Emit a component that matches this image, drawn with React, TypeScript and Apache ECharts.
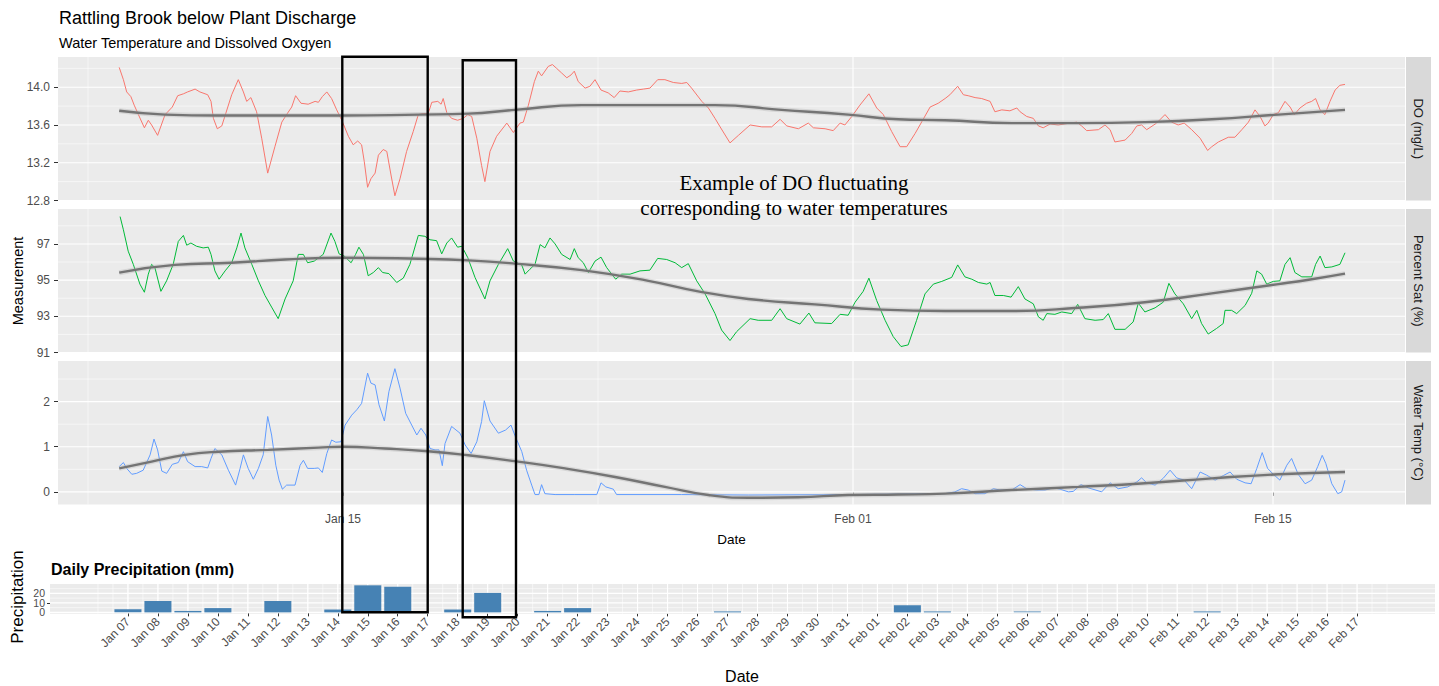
import { useEffect, useRef } from "react";
import * as echarts from "echarts";

// ---------- Data (x = days since Jan 01) ----------
const doPoints: [number, number][] = [
  [6.54,14.21],[6.68,14.08],[6.79,13.95],[6.93,13.90],[7.04,13.81],[7.18,13.71],[7.38,13.57],[7.51,13.65],[7.62,13.60],[7.82,13.49],
  [8.07,13.71],[8.31,13.79],[8.49,13.91],[8.68,13.93],[8.82,13.95],[9.07,13.98],[9.23,13.95],[9.49,13.92],[9.60,13.85],[9.68,13.67],
  [9.81,13.56],[9.96,13.59],[10.29,13.92],[10.51,14.08],[10.68,13.95],[10.79,13.85],[10.93,13.89],[11.12,13.74],[11.29,13.46],[11.49,13.09],
  [11.73,13.37],[11.96,13.63],[12.12,13.71],[12.29,13.79],[12.42,13.91],[12.60,13.83],[12.84,13.82],[13.07,13.85],[13.18,13.84],[13.31,13.90],
  [13.46,13.95],[13.62,13.88],[13.79,13.76],[13.96,13.65],[14.18,13.48],[14.34,13.39],[14.49,13.43],[14.62,13.39],[14.71,13.21],[14.82,12.94],
  [14.93,13.03],[15.07,13.09],[15.18,13.28],[15.34,13.34],[15.46,13.32],[15.60,13.07],[15.73,12.85],[15.90,13.03],[16.12,13.32],[16.34,13.53],
  [16.51,13.71],[16.68,13.72],[16.84,13.72],[16.96,13.84],[17.16,13.85],[17.27,13.82],[17.34,13.88],[17.46,13.73],[17.62,13.67],[17.82,13.65],
  [18.01,13.67],[18.16,13.71],[18.29,13.69],[18.46,13.46],[18.62,13.17],[18.73,13.00],[18.90,13.32],[19.12,13.48],[19.46,13.62],[19.68,13.52],
  [19.90,13.62],[20.01,13.63],[20.18,13.81],[20.38,14.06],[20.51,14.17],[20.62,14.12],[20.84,14.22],[20.98,14.24],[21.12,14.20],[21.29,14.15],
  [21.46,14.10],[21.60,14.13],[21.71,14.17],[21.84,14.06],[22.07,13.99],[22.23,14.01],[22.40,14.08],[22.60,13.97],[22.84,13.94],[23.04,13.89],
  [23.23,13.96],[23.51,13.95],[23.79,13.97],[24.01,13.98],[24.23,13.99],[24.49,14.08],[24.73,14.08],[25.01,14.05],[25.29,14.04],[25.46,14.05],
  [25.62,13.99],[25.96,13.85],[26.18,13.78],[26.40,13.67],[26.57,13.58],[26.90,13.41],[27.18,13.49],[27.57,13.60],[27.96,13.58],[28.29,13.58],
  [28.57,13.66],[28.79,13.59],[29.18,13.56],[29.51,13.62],[29.68,13.57],[30.07,13.56],[30.34,13.54],[30.57,13.62],[30.73,13.60],[30.96,13.69],
  [31.23,13.81],[31.53,13.93],[31.79,13.78],[32.01,13.71],[32.29,13.53],[32.57,13.37],[32.79,13.37],[33.07,13.51],[33.34,13.66],[33.57,13.79],
  [33.84,13.83],[34.07,13.88],[34.23,13.92],[34.49,14.01],[34.68,13.92],[34.84,13.91],[35.07,13.89],[35.29,13.88],[35.57,13.85],[35.73,13.74],
  [35.96,13.76],[36.23,13.75],[36.46,13.78],[36.57,13.74],[36.79,13.69],[37.01,13.67],[37.18,13.59],[37.34,13.57],[37.57,13.61],[37.84,13.60],
  [38.23,13.62],[38.46,13.63],[38.62,13.59],[38.79,13.54],[39.18,13.55],[39.40,13.60],[39.57,13.55],[39.73,13.42],[40.07,13.44],[40.29,13.51],
  [40.46,13.59],[40.62,13.60],[40.79,13.55],[41.12,13.62],[41.40,13.71],[41.62,13.63],[41.84,13.60],[42.04,13.62],[42.29,13.55],[42.57,13.46],
  [42.82,13.33],[42.96,13.37],[43.18,13.42],[43.51,13.47],[43.73,13.47],[43.96,13.55],[44.18,13.63],[44.40,13.76],[44.57,13.69],[44.73,13.59],
  [44.84,13.62],[45.01,13.71],[45.18,13.73],[45.40,13.85],[45.57,13.79],[45.71,13.71],[45.90,13.78],[46.12,13.83],[46.29,13.85],[46.42,13.88],
  [46.57,13.76],[46.73,13.71],[46.90,13.85],[47.07,13.97],[47.23,14.02],[47.40,14.03],
];
const doSmooth: [number, number][] = [
  [6.54,13.75],[8.07,13.71],[9.84,13.70],[12.07,13.70],[14.01,13.70],[16.51,13.71],[18.18,13.72],[19.73,13.76],[21.96,13.81],[24.18,13.81],
  [26.40,13.81],[28.62,13.76],[30.84,13.71],[32.51,13.66],[34.07,13.65],[36.29,13.62],[38.51,13.62],[40.73,13.63],[42.96,13.66],[45.18,13.71],[47.40,13.76],
];

const satPoints: [number, number][] = [
  [6.57,98.51],[6.68,97.78],[6.84,96.60],[7.01,95.87],[7.23,94.78],[7.38,94.33],[7.51,95.33],[7.62,95.87],[7.73,95.69],[7.93,94.38],
  [8.12,94.96],[8.34,95.87],[8.51,97.14],[8.68,97.47],[8.79,96.93],[8.93,97.05],[9.12,96.87],[9.34,96.78],[9.51,96.82],[9.60,96.42],
  [9.73,95.51],[9.87,95.05],[10.07,95.51],[10.29,95.96],[10.46,96.78],[10.60,97.60],[10.73,96.78],[10.96,95.87],[11.18,94.96],[11.40,94.15],
  [11.62,93.51],[11.84,92.87],[12.07,93.96],[12.34,94.96],[12.51,96.42],[12.68,96.42],[12.82,95.96],[13.04,96.05],[13.34,96.42],[13.60,97.60],
  [13.73,97.14],[13.87,96.45],[14.04,96.33],[14.27,95.96],[14.42,96.42],[14.53,96.82],[14.68,96.42],[14.84,95.24],[15.01,95.42],[15.18,95.69],
  [15.32,95.42],[15.53,95.36],[15.79,94.87],[16.01,95.11],[16.23,95.87],[16.51,97.47],[16.73,97.42],[16.90,97.23],[17.12,97.18],[17.29,96.45],
  [17.46,97.05],[17.62,97.33],[17.82,96.82],[17.96,96.87],[18.16,96.24],[18.40,95.15],[18.73,93.96],[18.90,94.96],[19.18,95.87],[19.49,96.74],
  [19.68,96.05],[19.96,95.83],[20.07,95.33],[20.23,95.60],[20.40,95.87],[20.57,96.96],[20.73,96.78],[20.90,97.33],[21.07,97.00],[21.29,96.42],
  [21.57,96.14],[21.71,96.74],[21.84,96.24],[22.01,95.96],[22.18,95.42],[22.40,96.05],[22.60,96.27],[22.79,95.69],[23.09,95.05],[23.29,95.33],
  [23.57,95.33],[23.90,95.51],[24.23,95.55],[24.49,96.20],[24.79,96.14],[25.07,95.96],[25.29,95.69],[25.51,95.91],[25.79,94.96],[26.07,94.24],
  [26.40,93.15],[26.62,92.24],[26.90,91.66],[27.12,92.15],[27.57,92.87],[27.84,92.78],[28.29,92.78],[28.57,93.42],[28.79,92.87],[29.23,92.57],
  [29.53,93.18],[29.73,92.64],[30.29,92.60],[30.57,93.11],[30.84,93.06],[31.07,93.78],[31.34,94.38],[31.53,95.11],[31.79,93.87],[32.07,92.78],
  [32.34,91.88],[32.60,91.33],[32.84,91.42],[33.12,92.78],[33.40,94.24],[33.68,94.78],[33.96,94.93],[34.29,95.15],[34.49,95.84],[34.73,95.18],
  [34.96,95.05],[35.18,94.87],[35.46,94.78],[35.57,94.87],[35.73,94.15],[36.01,94.15],[36.27,94.06],[36.51,94.64],[36.73,93.96],[37.01,93.69],
  [37.18,92.97],[37.34,92.78],[37.46,93.15],[37.73,93.11],[37.96,93.24],[38.29,93.15],[38.49,93.66],[38.73,92.87],[39.07,92.78],[39.34,92.82],
  [39.51,93.15],[39.73,92.28],[40.07,92.28],[40.34,92.69],[40.51,93.73],[40.73,93.24],[41.07,93.47],[41.34,93.78],[41.53,94.82],[41.73,94.24],
  [42.01,93.69],[42.29,92.87],[42.46,93.33],[42.62,92.60],[42.84,92.02],[43.12,92.33],[43.34,92.60],[43.40,93.33],[43.62,93.33],[43.79,93.15],
  [44.07,93.60],[44.29,94.27],[44.46,95.51],[44.62,95.33],[44.79,94.78],[45.01,94.93],[45.23,94.96],[45.40,95.87],[45.57,96.24],[45.73,95.42],
  [45.96,95.18],[46.29,95.18],[46.42,95.87],[46.57,96.33],[46.73,95.69],[46.96,95.73],[47.23,95.87],[47.40,96.51],
];
const satSmooth: [number, number][] = [
  [6.54,95.41],[8.40,95.84],[10.29,95.96],[12.07,96.14],[14.01,96.24],[16.51,96.18],[18.18,96.09],[19.73,95.91],[21.96,95.55],[24.18,94.96],
  [25.84,94.38],[27.51,93.96],[29.73,93.66],[31.96,93.37],[34.07,93.29],[36.29,93.29],[38.51,93.47],[40.73,93.78],[42.96,94.27],[45.18,94.78],
  [46.29,95.05],[47.40,95.36],
];

const tempPoints: [number, number][] = [
  [6.54,0.56],[6.68,0.65],[6.79,0.52],[6.96,0.39],[7.12,0.41],[7.34,0.48],[7.57,0.82],[7.70,1.17],[7.82,0.93],[7.96,0.46],
  [8.12,0.41],[8.31,0.61],[8.51,0.65],[8.68,0.89],[8.82,0.67],[9.07,0.56],[9.29,0.56],[9.49,0.53],[9.60,0.74],[9.73,0.96],
  [9.96,0.82],[10.18,0.48],[10.42,0.15],[10.57,0.52],[10.68,0.82],[10.84,0.52],[11.01,0.28],[11.18,0.52],[11.34,0.82],[11.49,1.67],
  [11.62,1.26],[11.76,0.59],[11.87,0.26],[11.98,0.06],[12.12,0.15],[12.40,0.15],[12.57,0.59],[12.68,0.70],[12.82,0.52],[13.04,0.52],
  [13.18,0.53],[13.31,0.43],[13.46,0.85],[13.62,1.15],[13.76,1.10],[13.93,1.11],[14.07,1.48],[14.29,1.70],[14.46,1.82],[14.62,1.96],
  [14.82,2.63],[14.93,2.41],[15.07,2.37],[15.20,1.93],[15.38,1.57],[15.53,2.22],[15.73,2.73],[15.90,2.30],[16.09,1.74],[16.29,1.48],
  [16.46,1.26],[16.60,1.41],[16.76,1.26],[16.90,0.96],[17.07,0.93],[17.20,0.93],[17.31,0.58],[17.40,1.07],[17.62,1.45],[17.90,1.30],
  [18.07,1.04],[18.27,0.85],[18.46,1.11],[18.62,1.56],[18.71,2.02],[18.90,1.57],[19.18,1.30],[19.42,1.37],[19.60,1.48],[19.73,1.25],
  [19.96,0.89],[20.12,0.48],[20.29,0.15],[20.40,-0.06],[20.53,-0.06],[20.62,0.16],[20.73,-0.04],[21.07,-0.06],[21.73,-0.06],[22.46,-0.06],
  [22.60,0.20],[22.76,0.11],[23.01,0.06],[23.12,-0.06],[25.29,-0.06],[27.51,-0.07],[30.84,-0.06],[32.50,-0.05],[33.50,-0.04],[34.07,-0.04],
  [34.40,0.00],[34.62,0.07],[34.84,0.04],[35.07,-0.04],[35.40,-0.04],[35.68,0.07],[35.90,0.04],[36.29,0.04],[36.57,0.16],[36.79,0.07],
  [37.12,0.04],[37.40,0.04],[37.68,0.09],[37.90,0.06],[38.18,0.00],[38.34,0.01],[38.60,0.16],[38.84,0.09],[39.29,0.00],[39.57,0.20],
  [39.84,0.07],[40.16,0.11],[40.46,0.22],[40.62,0.31],[40.79,0.20],[41.07,0.15],[41.34,0.30],[41.57,0.48],[41.79,0.31],[42.04,0.26],
  [42.29,0.07],[42.57,0.44],[42.79,0.37],[43.07,0.26],[43.34,0.36],[43.57,0.44],[43.79,0.28],[44.07,0.20],[44.27,0.18],[44.46,0.52],
  [44.64,0.87],[44.82,0.52],[45.01,0.39],[45.23,0.26],[45.46,0.59],[45.62,0.74],[45.84,0.39],[46.07,0.18],[46.29,0.26],[46.49,0.56],
  [46.64,0.81],[46.76,0.63],[46.96,0.18],[47.16,-0.04],[47.29,0.00],[47.40,0.26],
];
const tempSmooth: [number, number][] = [
  [6.54,0.52],[7.62,0.67],[8.73,0.82],[9.84,0.89],[11.51,0.93],[13.18,0.98],[14.01,1.00],[15.40,0.96],[16.84,0.90],[18.18,0.81],
  [19.73,0.68],[21.40,0.52],[23.07,0.33],[24.73,0.11],[26.18,-0.07],[27.51,-0.13],[29.18,-0.12],[30.84,-0.07],[32.51,-0.06],[34.07,-0.04],
  [36.29,0.04],[38.51,0.11],[40.73,0.19],[42.96,0.30],[45.18,0.39],[47.40,0.44],
];

const xBreaks = [14, 31, 45];
const xBreakLabels = ["Jan 15", "Feb 01", "Feb 15"];
const xMinorBreaks = [5.5, 22.5, 38];

const doBreaks = [12.8, 13.2, 13.6, 14.0];
const doMinor = [13.0, 13.4, 13.8, 14.2];
const satBreaks = [91, 93, 95, 97];
const satMinor = [92, 94, 96, 98];
const tempBreaks = [0, 1, 2];
const tempMinor = [0.5, 1.5, 2.5];

const precipDates = [
  "Jan 07","Jan 08","Jan 09","Jan 10","Jan 11","Jan 12","Jan 13","Jan 14","Jan 15","Jan 16",
  "Jan 17","Jan 18","Jan 19","Jan 20","Jan 21","Jan 22","Jan 23","Jan 24","Jan 25","Jan 26",
  "Jan 27","Jan 28","Jan 29","Jan 30","Jan 31","Feb 01","Feb 02","Feb 03","Feb 04","Feb 05",
  "Feb 06","Feb 07","Feb 08","Feb 09","Feb 10","Feb 11","Feb 12","Feb 13","Feb 14","Feb 15",
  "Feb 16","Feb 17",
];
const precipValues = [
  3.2, 12, 1.5, 4.5, 0, 12, 0, 3, 28.5, 27,
  0, 3, 20.5, 0, 1.5, 4.5, 0, 0, 0, 0,
  1, 0, 0, 0, 0, 0, 7.5, 1, 0, 0,
  1, 0, 0, 0, 0, 0, 1, 0, 0, 0,
  0, 0,
];
const precipBreaks = [0, 10, 20];
const precipMinor = [5, 15, 25];

// ---------- Layout / style ----------
const FONT = "'Liberation Sans', Arial, sans-serif";
const TOP_X_MIN = 4.5;
const TOP_X_MAX = 49.4;
const PANEL_LEFT = 58;
const PANEL_W = 1347;
const PANEL_H = 143.5;
const panelTops = [57, 209, 361];

const panels = [
  { strip: "DO (mg/L)", color: "#F8766D", pts: doPoints, sm: doSmooth, min: 12.8, max: 14.32, br: doBreaks, mi: doMinor, dig: 1 },
  { strip: "Percent Sat (%)", color: "#00BA38", pts: satPoints, sm: satSmooth, min: 91.0, max: 98.93, br: satBreaks, mi: satMinor, dig: 0 },
  { strip: "Water Temp (\u00B0C)", color: "#619CFF", pts: tempPoints, sm: tempSmooth, min: -0.28, max: 2.9, br: tempBreaks, mi: tempMinor, dig: 0 },
];

const P_X_MIN = -2.6;
const P_X_MAX = 43.6;
const P_Y_MIN = -1.4;
const P_Y_MAX = 29.9;

function gridLineSeries(idx: number, xMid: number, yMid: number, xMajor: number[], xMinor: number[], yMajor: number[], yMinor: number[]) {
  const data: number[][] = [];
  yMinor.forEach((v) => data.push([xMid, v, 0, 0]));
  xMinor.forEach((v) => data.push([v, yMid, 1, 0]));
  yMajor.forEach((v) => data.push([xMid, v, 0, 1]));
  xMajor.forEach((v) => data.push([v, yMid, 1, 1]));
  return {
    type: "custom",
    xAxisIndex: idx,
    yAxisIndex: idx,
    silent: true,
    z: 1,
    data,
    renderItem: (params: any, api: any) => {
      const cs = params.coordSys;
      const p = api.coord([api.value(0), api.value(1)]);
      const horiz = api.value(2) === 0;
      const major = api.value(3) === 1;
      const shape = horiz
        ? { x1: cs.x, y1: p[1], x2: cs.x + cs.width, y2: p[1] }
        : { x1: p[0], y1: cs.y, x2: p[0], y2: cs.y + cs.height };
      return { type: "line", shape, style: { stroke: "#FFFFFF", lineWidth: major ? 1.1 : 0.55 }, silent: true };
    },
  };
}

function txt(x: number, y: number, text: string, opts: any = {}) {
  const { rotation, ...style } = opts;
  return {
    type: "text",
    x,
    y,
    rotation: rotation || 0,
    z: 50,
    silent: true,
    style: {
      text,
      fill: "#000000",
      fontFamily: FONT,
      fontSize: 13,
      align: "left",
      verticalAlign: "middle",
      textAlign: "left",
      textVerticalAlign: "middle",
      ...style,
    },
  };
}

const labelCommon = { color: "#4D4D4D", fontFamily: FONT, hideOverlap: false, showMinLabel: true, showMaxLabel: true };

function buildOption() {
  const grid: any[] = [];
  const xAxis: any[] = [];
  const yAxis: any[] = [];
  const series: any[] = [];
  const graphic: any[] = [];

  panels.forEach((p, i) => {
    grid.push({ left: PANEL_LEFT, top: panelTops[i], width: PANEL_W, height: PANEL_H, show: true, backgroundColor: "#EBEBEB", borderWidth: 0 });
    const bottom = i === 2;
    xAxis.push({
      type: "value", gridIndex: i, min: TOP_X_MIN, max: TOP_X_MAX,
      axisLine: { show: false },
      axisTick: { show: bottom, customValues: xBreaks, length: 4, lineStyle: { color: "#333333", width: 1 } },
      axisLabel: {
        ...labelCommon, show: bottom, customValues: xBreaks, margin: 8, fontSize: 12,
        formatter: (v: number) => xBreakLabels[xBreaks.indexOf(Math.round(v))] ?? "",
      },
      splitLine: { show: false },
    });
    yAxis.push({
      type: "value", gridIndex: i, min: p.min, max: p.max,
      axisLine: { show: false },
      axisTick: { show: true, customValues: p.br, length: 4, lineStyle: { color: "#333333", width: 1 } },
      axisLabel: { ...labelCommon, customValues: p.br, margin: 8, fontSize: 12, formatter: (v: number) => v.toFixed(p.dig) },
      splitLine: { show: false },
    });
    series.push(gridLineSeries(i, (TOP_X_MIN + TOP_X_MAX) / 2, (p.min + p.max) / 2, xBreaks, xMinorBreaks, p.br, p.mi));
    series.push({
      type: "line", xAxisIndex: i, yAxisIndex: i, data: p.pts, symbol: "none", showSymbol: false, z: 3,
      lineStyle: { color: p.color, width: 1 }, silent: true,
    });
    series.push({
      type: "line", xAxisIndex: i, yAxisIndex: i, data: p.sm, symbol: "none", showSymbol: false, smooth: 0.5, z: 4,
      lineStyle: { color: "rgba(175,175,175,0.35)", width: 5 }, silent: true,
    });
    series.push({
      type: "line", xAxisIndex: i, yAxisIndex: i, data: p.sm, symbol: "none", showSymbol: false, smooth: 0.5, z: 5,
      lineStyle: { color: "#747474", width: 2.4 }, silent: true,
    });
    // strip
    graphic.push({ type: "rect", z: 40, silent: true, shape: { x: PANEL_LEFT + PANEL_W + 1, y: panelTops[i], width: 25, height: PANEL_H }, style: { fill: "#D9D9D9" } });
    graphic.push(txt(PANEL_LEFT + PANEL_W + 13.5, panelTops[i] + PANEL_H / 2, p.strip, {
      rotation: -Math.PI / 2, fontSize: 13, fill: "#1A1A1A", align: "center", textAlign: "center",
    }));
  });

  // precipitation panel
  const pi = 3;
  grid.push({ left: 50, top: 584, width: 1385, height: 29.7, show: true, backgroundColor: "#EBEBEB", borderWidth: 0 });
  const pIdx = precipDates.map((_, i) => i);
  xAxis.push({
    type: "value", gridIndex: pi, min: P_X_MIN, max: P_X_MAX,
    axisLine: { show: false },
    axisTick: { show: true, customValues: pIdx, length: 4, lineStyle: { color: "#333333", width: 1 } },
    axisLabel: {
      ...labelCommon, customValues: pIdx, rotate: 45, margin: 6, fontSize: 12,
      formatter: (v: number) => precipDates[Math.round(v)] ?? "",
    },
    splitLine: { show: false },
  });
  // The precipitation tick labels sit very close together (as in the reference); split them
  // over two coincident left axes so that none of them is auto-hidden.
  const evenBreaks = precipBreaks.filter((_, k) => k % 2 === 0);
  const oddBreaks = precipBreaks.filter((_, k) => k % 2 === 1);
  [evenBreaks, oddBreaks].forEach((brs) => {
    yAxis.push({
      type: "value", gridIndex: pi, position: "left", offset: 0, min: P_Y_MIN, max: P_Y_MAX,
      axisLine: { show: false },
      axisTick: { show: true, customValues: brs, length: 3, lineStyle: { color: "#333333", width: 1 } },
      axisLabel: { ...labelCommon, customValues: brs, margin: 5, fontSize: 10.5, lineHeight: 9 },
      splitLine: { show: false },
    });
  });
  const pMajorX = pIdx;
  const pMinorX: number[] = [];
  for (let k = -1; k <= precipDates.length; k += 0.5) pMinorX.push(k);
  series.push(gridLineSeries(pi, (P_X_MIN + P_X_MAX) / 2, (P_Y_MIN + P_Y_MAX) / 2, pMajorX, pMinorX, precipBreaks, precipMinor));
  series.push({
    type: "bar", xAxisIndex: pi, yAxisIndex: pi, barWidth: 27, z: 3, silent: true,
    data: precipValues.map((v, i) => [i, v]),
    itemStyle: { color: "#4682B4" },
  });

  // texts
  graphic.push(txt(59, 18, "Rattling Brook below Plant Discharge", { fontSize: 18 }));
  graphic.push(txt(59, 43, "Water Temperature and Dissolved Oxgyen", { fontSize: 14.5 }));
  graphic.push(txt(17.5, 281, "Measurement", { rotation: Math.PI / 2, fontSize: 14.5, align: "center", textAlign: "center" }));
  graphic.push(txt(731.5, 539, "Date", { fontSize: 13.5, align: "center", textAlign: "center" }));
  graphic.push(txt(51, 569, "Daily Precipitation (mm)", { fontSize: 16, fontWeight: "bold" }));
  graphic.push(txt(17, 597, "Precipitation", { rotation: Math.PI / 2, fontSize: 17, align: "center", textAlign: "center" }));
  graphic.push(txt(742, 676, "Date", { fontSize: 16, align: "center", textAlign: "center" }));
  graphic.push(txt(794, 183, "Example of DO fluctuating", {
    fontSize: 21, fontFamily: "'Liberation Serif', 'Times New Roman', serif", align: "center", textAlign: "center",
  }));
  graphic.push(txt(794, 208, "corresponding to water temperatures", {
    fontSize: 21, fontFamily: "'Liberation Serif', 'Times New Roman', serif", align: "center", textAlign: "center",
  }));
  // annotation boxes
  graphic.push({ type: "rect", z: 60, silent: true, shape: { x: 342.3, y: 56.7, width: 85.4, height: 555.5 }, style: { fill: "none", stroke: "#000000", lineWidth: 2.4 } });
  graphic.push({ type: "rect", z: 60, silent: true, shape: { x: 462.7, y: 60.3, width: 53.3, height: 557 }, style: { fill: "none", stroke: "#000000", lineWidth: 2.4 } });

  return {
    animation: false,
    backgroundColor: "#FFFFFF",
    textStyle: { fontFamily: FONT },
    grid,
    xAxis,
    yAxis,
    series,
    graphic,
  };
}

export default function App() {
  const ref = useRef<HTMLDivElement>(null);
  useEffect(() => {
    if (!ref.current) return;
    const chart = echarts.init(ref.current, null, { renderer: "svg" });
    chart.setOption(buildOption() as any);
    return () => chart.dispose();
  }, []);
  return (
    <div
      ref={ref}
      style={{ position: "absolute", left: 0, top: 0, width: 1439, height: 686, background: "#FFFFFF" }}
    />
  );
}
